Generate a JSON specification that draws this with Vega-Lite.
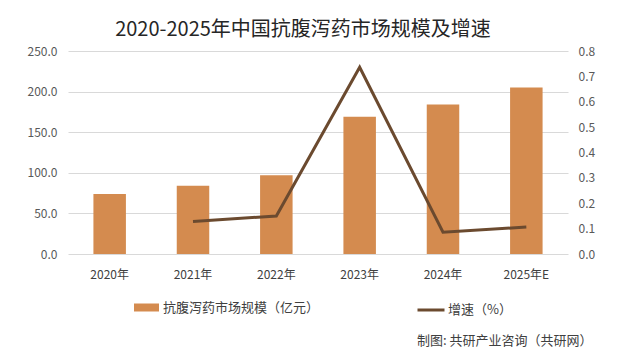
{
  "$schema": "https://vega.github.io/schema/vega-lite/v6.json",
  "autosize": {"type": "none"},
  "width": 500,
  "height": 203,
  "padding": {"left": 68, "top": 51, "right": 49, "bottom": 104},
  "background": "white",
  "title": {
    "text": "2020-2025年中国抗腹泻药市场规模及增速",
    "font": "Noto Sans CJK SC",
    "fontSize": 20,
    "fontWeight": "normal",
    "color": "#262626",
    "offset": 5,
    "dx": -15
  },
  "config": {
    "view": {"stroke": null},
    "font": "Noto Sans CJK SC"
  },
  "data": {
    "values": [
      {"year": "2020年", "size": 74, "growth": null},
      {"year": "2021年", "size": 84, "growth": 0.128},
      {"year": "2022年", "size": 97, "growth": 0.150},
      {"year": "2023年", "size": 169, "growth": 0.736},
      {"year": "2024年", "size": 184, "growth": 0.086},
      {"year": "2025年E", "size": 205, "growth": 0.106}
    ]
  },
  "encoding": {
    "x": {
      "field": "year",
      "type": "ordinal",
      "sort": null,
      "scale": {"paddingInner": 0.61, "paddingOuter": 0.305},
      "axis": {
        "labelAngle": 0,
        "labelFontSize": 12,
        "labelColor": "#404040",
        "labelPadding": 15,
        "domain": false,
        "ticks": false,
        "title": "制图: 共研产业咨询（共研网）",
        "titleFontSize": 13,
        "titleFontWeight": "normal",
        "titleColor": "#404040",
        "titleAnchor": "end",
        "titleAlign": "right",
        "titleBaseline": "middle",
        "titleX": 524,
        "titleY": 86
      }
    }
  },
  "layer": [
    {
      "mark": {"type": "bar"},
      "encoding": {
        "y": {
          "field": "size",
          "type": "quantitative",
          "scale": {"domain": [0, 250]},
          "axis": {
            "title": null,
            "values": [0, 50, 100, 150, 200, 250],
            "format": ".1f",
            "labelFontSize": 12,
            "labelColor": "#595959",
            "labelPadding": 11,
            "domain": false,
            "ticks": false,
            "grid": true,
            "gridColor": "#d9d9d9",
            "gridWidth": 1
          }
        },
        "fill": {
          "datum": "抗腹泻药市场规模（亿元）",
          "type": "nominal",
          "scale": {"range": ["#D48B4F"]},
          "legend": {
            "orient": "none",
            "legendX": 66,
            "legendY": 244,
            "title": null,
            "symbolType": "M-1,-0.32H1V0.32H-1Z",
            "symbolSize": 625,
            "symbolStrokeWidth": 0,
            "symbolOpacity": 1,
            "labelFontSize": 13,
            "labelColor": "#404040",
            "labelLimit": 400
          }
        }
      }
    },
    {
      "mark": {"type": "line", "strokeWidth": 3},
      "encoding": {
        "y": {
          "field": "growth",
          "type": "quantitative",
          "scale": {"domain": [0, 0.8]},
          "axis": {
            "orient": "right",
            "title": null,
            "values": [0, 0.1, 0.2, 0.3, 0.4, 0.5, 0.6, 0.7, 0.8],
            "format": ".1f",
            "labelFontSize": 12,
            "labelColor": "#595959",
            "labelPadding": 10,
            "domain": false,
            "ticks": false,
            "grid": false
          }
        },
        "stroke": {
          "datum": "增速（%）",
          "type": "nominal",
          "scale": {"range": ["#6B4A2F"]},
          "legend": {
            "orient": "none",
            "legendX": 348,
            "legendY": 244,
            "title": null,
            "symbolType": "stroke",
            "symbolSize": 729,
            "symbolStrokeWidth": 3,
            "labelOffset": 2,
            "labelFontSize": 13,
            "labelColor": "#404040",
            "labelLimit": 400
          }
        }
      }
    }
  ],
  "resolve": {"scale": {"y": "independent"}}
}
